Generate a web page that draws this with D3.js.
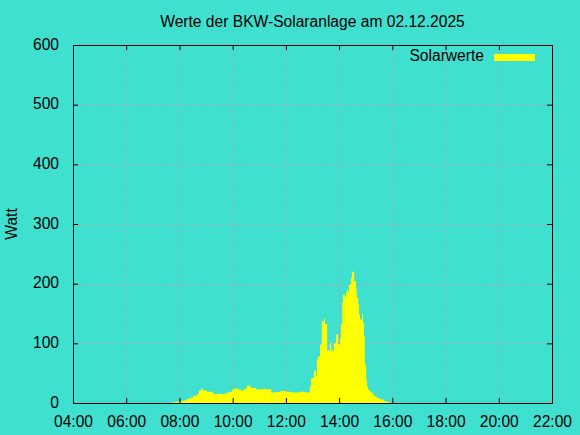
<!DOCTYPE html>
<html>
<head>
<meta charset="utf-8">
<script src="https://cdn.jsdelivr.net/npm/d3@7"></script>
<style>
  html, body { margin: 0; padding: 0; background: #40e0d0; }
  svg { display: block; }
  text { font-family: "Liberation Sans", Arial, sans-serif; fill: #000; }
</style>
</head>
<body>
<svg id="chart" width="580" height="435"></svg>
<script>
const title = "Werte der BKW-Solaranlage am 02.12.2025";
const yLabel = "Watt";
const seriesName = "Solarwerte";

const xTickLabels = ["04:00", "06:00", "08:00", "10:00", "12:00", "14:00", "16:00", "18:00", "20:00", "22:00"];
const yTicks = [0, 100, 200, 300, 400, 500, 600];

// Messzeitpunkte (Stufenbeginn) und Leistung in Watt
const times = [
  "07:41", "07:48", "07:54", "08:01", "08:08", "08:17", "08:24", "08:31", "08:40", "08:44",
  "08:49", "08:53", "09:02", "09:16", "09:29", "09:36", "09:43", "09:50", "09:59", "10:05",
  "10:12", "10:19", "10:26", "10:32", "10:41", "10:53", "11:08", "11:15", "11:27", "11:36",
  "11:47", "12:00", "12:12", "12:32", "12:43", "12:54", "12:57", "12:59", "13:03", "13:06",
  "13:08", "13:10", "13:12", "13:17", "13:21", "13:26", "13:28", "13:33", "13:39", "13:42",
  "13:48", "13:53", "13:58", "14:02", "14:04", "14:07", "14:09", "14:13", "14:16", "14:18",
  "14:20", "14:22", "14:27", "14:29", "14:34", "14:38", "14:40", "14:43", "14:45", "14:47",
  "14:52", "14:54", "14:56", "14:58", "15:01", "15:03", "15:05", "15:10", "15:16", "15:21",
  "15:25", "15:32", "15:41", "15:48", "15:55"
];
const watts = [
  1, 1.5, 2, 3, 4, 7, 9, 12, 15, 21,
  24, 21, 19, 15, 15.5, 15, 16.5, 19, 23, 24.5,
  22.5, 21, 24, 29, 25, 22.5, 24, 23, 17.5, 18.5,
  20, 19, 17.5, 19, 17.5, 28, 41, 42, 53, 55,
  45, 73, 78, 98, 137, 142, 132, 88, 100, 88,
  100, 115, 98, 108, 132, 168, 182, 178, 185, 190,
  185, 198, 210, 220, 204, 190, 176, 165, 148, 140,
  150, 134, 112, 64, 39, 28, 22, 18, 14, 11,
  8.5, 6, 3, 1.5, 0
];

const toMin = (s) => {
  const [h, m] = s.split(":").map(Number);
  return h * 60 + m;
};

const data = times.map((t, i) => ({ t: toMin(t), v: watts[i] }));

const svg = d3.select("#chart");
const plotLeft = 73, plotRight = 552, plotTop = 45, plotBottom = 403;

const x = d3.scaleLinear()
  .domain([toMin(xTickLabels[0]), toMin(xTickLabels[xTickLabels.length - 1])])
  .range([plotLeft, plotRight]);
const y = d3.scaleLinear().domain([0, 600]).range([plotBottom, plotTop]);

const gridColor = "#c49ca0";

// grid
const grid = svg.append("g").attr("class", "grid");
grid.selectAll("line.gx")
  .data(xTickLabels.slice(1, -1))
  .join("line")
  .attr("x1", (d) => Math.round(x(toMin(d))) + 0.5)
  .attr("x2", (d) => Math.round(x(toMin(d))) + 0.5)
  .attr("y1", plotTop)
  .attr("y2", plotBottom)
  .attr("stroke", gridColor)
  .attr("stroke-dasharray", "2,3");
grid.selectAll("line.gy")
  .data(yTicks.slice(1, -1))
  .join("line")
  .attr("x1", plotLeft)
  .attr("x2", plotRight)
  .attr("y1", (d) => Math.round(y(d)) + 0.5)
  .attr("y2", (d) => Math.round(y(d)) + 0.5)
  .attr("stroke", gridColor)
  .attr("stroke-dasharray", "2,3");

// data
const area = d3.area()
  .curve(d3.curveStepAfter)
  .x((d) => x(d.t))
  .y0(y(0))
  .y1((d) => y(d.v));

svg.append("path")
  .datum(data)
  .attr("fill", "#ffff00")
  .attr("d", area);

// axes with inward ticks
const xVals = xTickLabels.map(toMin);
const fmt = (d) => xTickLabels[xVals.indexOf(d)];

const gx = svg.append("g")
  .attr("transform", `translate(0,${plotBottom})`)
  .call(d3.axisBottom(x).tickValues(xVals).tickFormat(fmt).tickSizeInner(-5).tickSizeOuter(0).tickPadding(13));
const gxTop = svg.append("g")
  .attr("transform", `translate(0,${plotTop})`)
  .call(d3.axisTop(x).tickValues(xVals).tickFormat("").tickSizeInner(-5).tickSizeOuter(0));
const gy = svg.append("g")
  .attr("transform", `translate(${plotLeft},0)`)
  .call(d3.axisLeft(y).tickValues(yTicks).tickSizeInner(-5).tickSizeOuter(0).tickPadding(14));
const gyRight = svg.append("g")
  .attr("transform", `translate(${plotRight},0)`)
  .call(d3.axisRight(y).tickValues(yTicks).tickFormat("").tickSizeInner(-5).tickSizeOuter(0));

[gx, gxTop, gy, gyRight].forEach((g) => {
  g.select(".domain").remove();
  g.selectAll(".tick line").attr("stroke", "#000");
  g.selectAll(".tick text")
    .attr("font-family", "Liberation Sans, Arial, sans-serif")
    .attr("font-size", 15.6)
    .attr("fill", "#000");
});
gy.selectAll(".tick text").attr("dy", "0.26em");

// border
svg.append("rect")
  .attr("x", plotLeft + 0.5)
  .attr("y", plotTop + 0.5)
  .attr("width", plotRight - plotLeft)
  .attr("height", plotBottom - plotTop)
  .attr("fill", "none")
  .attr("stroke", "#000");

// title and labels
svg.append("text")
  .attr("x", (plotLeft + plotRight) / 2)
  .attr("y", 27)
  .attr("text-anchor", "middle")
  .attr("font-size", 15.6)
  .text(title);

svg.append("text")
  .attr("transform", `translate(17,${(plotTop + plotBottom) / 2}) rotate(-90)`)
  .attr("text-anchor", "middle")
  .attr("font-size", 15.6)
  .text(yLabel);

// legend
svg.append("text")
  .attr("x", 484)
  .attr("y", 61)
  .attr("text-anchor", "end")
  .attr("font-size", 15.6)
  .text(seriesName);
svg.append("rect")
  .attr("x", 494)
  .attr("y", 54)
  .attr("width", 41)
  .attr("height", 7)
  .attr("fill", "#ffff00");
</script>
</body>
</html>
